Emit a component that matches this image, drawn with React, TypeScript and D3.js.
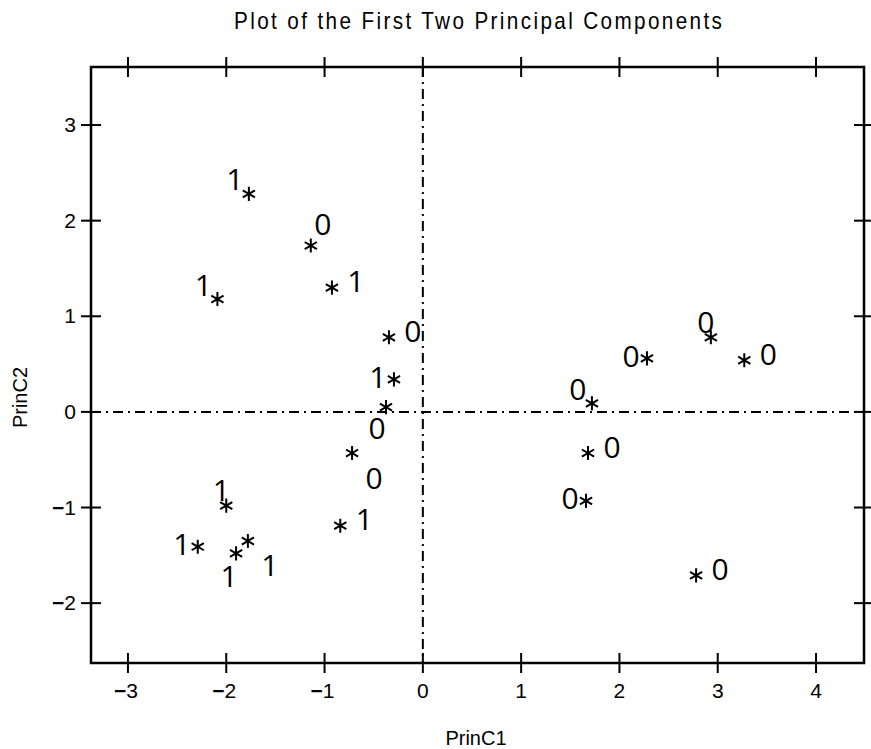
import React, { useEffect, useRef } from 'react';
import * as d3 from 'd3';

// principal component scores, one entry per observation
const princ1 = [-1.77, -1.14, -0.925, -2.09, -0.345, -0.294, -0.375, -0.72, -2.0, -0.84, -2.29, -1.9, -1.78, 2.93, 2.28, 3.27, 1.72, 1.68, 1.66, 2.78];
const princ2 = [2.28, 1.74, 1.3, 1.18, 0.78, 0.34, 0.05, -0.43, -0.98, -1.19, -1.41, -1.48, -1.35, 0.78, 0.56, 0.54, 0.09, -0.43, -0.93, -1.71];
const groups = ['1', '0', '1', '1', '0', '1', '0', '0', '1', '1', '1', '1', '1', '0', '0', '0', '0', '0', '0', '0'];
// where each group label sits relative to its point
const labelSide = ['ul', 'ur', 'r', 'ul', 'r', 'l', 'bl', 'br', 'u', 'r', 'l', 'b', 'br', 'u', 'l', 'r', 'ul', 'r', 'l', 'r'];

const xTicks = [-3, -2, -1, 0, 1, 2, 3, 4];
const yTicks = [-2, -1, 0, 1, 2, 3];

const sideOffset = {
  ul: [-14, -15],
  ur: [12, -22],
  r: [24, -7],
  l: [-16, -3],
  bl: [-9, 20],
  br: [22, 24],
  u: [-5, -16],
  b: [-7, 22],
};

const font = 'Liberation Sans, Arial, sans-serif';

// negative labels get a heavy minus like the original output
const tickLabel = (sel) => {
  sel.each(function (d) {
    const t = d3.select(this);
    if (d < 0) {
      t.append('tspan').style('font-weight', 'bold').text('\u2212');
    }
    t.append('tspan').text(String(Math.abs(d)));
  });
};

const App = () => {
  const svgRef = useRef(null);

  useEffect(() => {
    const svg = d3.select(svgRef.current)
      .attr('width', 871)
      .attr('height', 749);

    svg.selectAll('*').remove();

    const left = 91, right = 864, top = 67, bottom = 663;

    const x = d3.scaleLinear().domain([-3.376, 4.488]).range([left, right]);
    const y = d3.scaleLinear().domain([-2.626, 3.607]).range([bottom, top]);

    // title, narrow glyphs spread over the original width
    svg.append('text')
      .attr('transform', 'translate(478,29) scale(0.9,1)')
      .attr('text-anchor', 'middle')
      .attr('textLength', 542)
      .attr('lengthAdjust', 'spacing')
      .style('font-family', font)
      .style('font-size', '23px')
      .text('Plot of the First Two Principal Components');

    // reference lines through the origin
    svg.append('line')
      .attr('x1', x(0)).attr('x2', x(0))
      .attr('y1', top).attr('y2', bottom)
      .attr('stroke', '#000')
      .attr('stroke-width', 2)
      .attr('stroke-dasharray', '10,5,2,5');

    svg.append('line')
      .attr('x1', left).attr('x2', right)
      .attr('y1', y(0)).attr('y2', y(0))
      .attr('stroke', '#000')
      .attr('stroke-width', 2)
      .attr('stroke-dasharray', '10,5,2,5');

    // frame
    svg.append('rect')
      .attr('x', left).attr('y', top)
      .attr('width', right - left)
      .attr('height', bottom - top)
      .attr('fill', 'none')
      .attr('stroke', '#000')
      .attr('stroke-width', 2.5);

    const tickLen = 10;
    const ticks = svg.append('g').attr('stroke', '#000').attr('stroke-width', 2);

    xTicks.forEach(t => {
      [top, bottom].forEach(yy => {
        ticks.append('line')
          .attr('x1', x(t)).attr('x2', x(t))
          .attr('y1', yy - tickLen).attr('y2', yy + tickLen);
      });
    });
    yTicks.forEach(t => {
      [left, right].forEach(xx => {
        ticks.append('line')
          .attr('x1', xx - tickLen).attr('x2', xx + tickLen)
          .attr('y1', y(t)).attr('y2', y(t));
      });
    });

    // tick labels
    svg.append('g')
      .selectAll('text')
      .data(xTicks)
      .join('text')
      .attr('x', d => x(d) - (d < 0 ? 2 : 0))
      .attr('y', 698)
      .attr('text-anchor', 'middle')
      .style('font-family', font)
      .style('font-size', '21px')
      .call(tickLabel);

    svg.append('g')
      .selectAll('text')
      .data(yTicks)
      .join('text')
      .attr('x', 76)
      .attr('y', d => y(d) + 7)
      .attr('text-anchor', 'end')
      .style('font-family', font)
      .style('font-size', '21px')
      .call(tickLabel);

    // axis titles
    svg.append('text')
      .attr('x', 476)
      .attr('y', 745)
      .attr('text-anchor', 'middle')
      .style('font-family', font)
      .style('font-size', '20px')
      .text('PrinC1');

    svg.append('text')
      .attr('transform', `translate(27,${y(0.15)}) rotate(-90)`)
      .attr('text-anchor', 'middle')
      .style('font-family', font)
      .style('font-size', '20px')
      .text('PrinC2');

    // points
    const star = d3.symbol().type(d3.symbolAsterisk).size(140);
    const idx = d3.range(princ1.length);

    svg.append('g')
      .selectAll('path')
      .data(idx)
      .join('path')
      .attr('transform', i => `translate(${x(princ1[i])},${y(princ2[i])})`)
      .attr('d', star)
      .attr('fill', 'none')
      .attr('stroke', '#000')
      .attr('stroke-width', 2);

    svg.append('g')
      .selectAll('text')
      .data(idx)
      .join('text')
      .attr('x', i => x(princ1[i]) + sideOffset[labelSide[i]][0])
      .attr('y', i => y(princ2[i]) + sideOffset[labelSide[i]][1])
      .attr('text-anchor', 'middle')
      .attr('dominant-baseline', 'central')
      .style('font-family', 'Open Sans, sans-serif')
      .style('font-size', '30px')
      .text(i => groups[i]);
  }, []);

  return <svg ref={svgRef} style={{ position: 'absolute', left: 0, top: 0 }}></svg>;
};

export default App;
